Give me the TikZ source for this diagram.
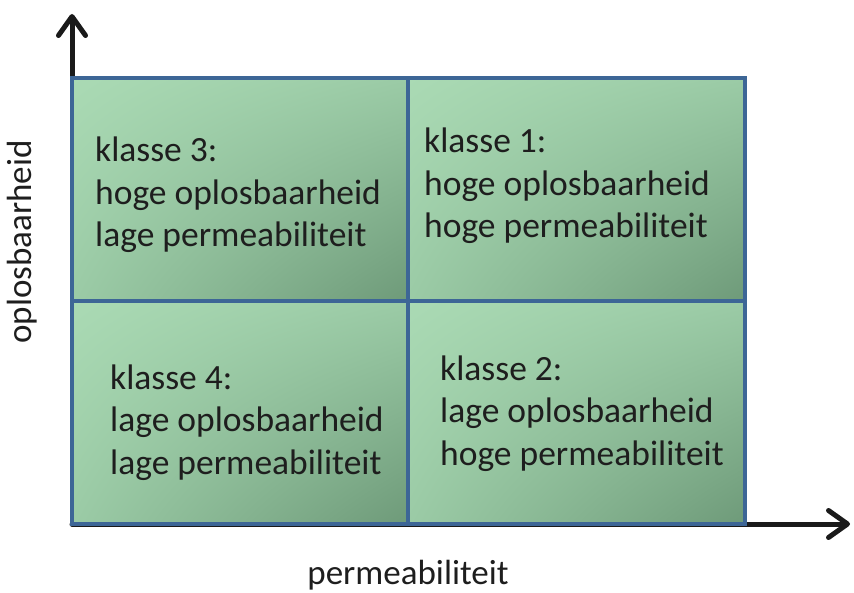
\documentclass[tikz,border=0pt]{standalone}
\usepackage{fontspec}
\setmainfont{Carlito}
\usetikzlibrary{arrows.meta,shadings}

\definecolor{cellLight}{HTML}{AADAB4}
\definecolor{cellMid}{HTML}{9BCBA6}
\definecolor{cellDark}{HTML}{6E9A79}
\definecolor{gridBlue}{HTML}{3D6696}
\definecolor{axisBlack}{HTML}{1A1A1A}
\definecolor{textDark}{HTML}{1E1E1E}

\begin{document}
\begin{tikzpicture}[x=1pt,y=-1pt,
  axis/.style={line width=5pt, draw=axisBlack, line cap=round,
    -{Straight Barb[length=19pt,width=27pt,line cap=round,line join=round]}},
  cell/.style={draw=gridBlue, line width=3.5pt, inner sep=0pt, outer sep=0pt,
    upper left=cellLight, upper right=cellMid, lower left=cellMid, lower right=cellDark},
  celltext/.style={anchor=base west, inner sep=0pt, align=left, text=textDark,
    font=\fontsize{35.5}{42.5}\selectfont},
  axislabel/.style={inner sep=0pt, text=textDark, font=\fontsize{35}{40}\selectfont}]

  % page frame
  \useasboundingbox (0,0) rectangle (854,593);

  % axes
  \coordinate (origin) at (72,524);
  \coordinate (ytip) at (72,14);
  \coordinate (xtip) at (850,524);
  \draw[axis] (origin) -- (ytip);
  \draw[axis] (origin) -- (xtip);

  % four quadrants
  \node[cell, minimum width=336pt, minimum height=223pt] (c3) at (240,189.5) {};
  \node[cell, minimum width=337pt, minimum height=223pt] (c1) at (576.5,189.5) {};
  \node[cell, minimum width=336pt, minimum height=223pt] (c4) at (240,412.5) {};
  \node[cell, minimum width=337pt, minimum height=223pt] (c2) at (576.5,412.5) {};

  % quadrant texts (anchored on the baseline of the last line)
  \node[celltext] (t3) at (95,247) {klasse 3:\\hoge oplosbaarheid\\lage permeabiliteit};
  \node[celltext] (t1) at (424,238) {klasse 1:\\hoge oplosbaarheid\\hoge permeabiliteit};
  \node[celltext] (t4) at (110,474) {klasse 4:\\lage oplosbaarheid\\lage permeabiliteit};
  \node[celltext] (t2) at (440,465) {klasse 2:\\lage oplosbaarheid\\hoge permeabiliteit};

  % axis labels
  \node[axislabel, rotate=90] (ylab) at (22,242) {oplosbaarheid};
  \node[axislabel, anchor=base] (xlab) at (408,584) {permeabiliteit};
\end{tikzpicture}
\end{document}
